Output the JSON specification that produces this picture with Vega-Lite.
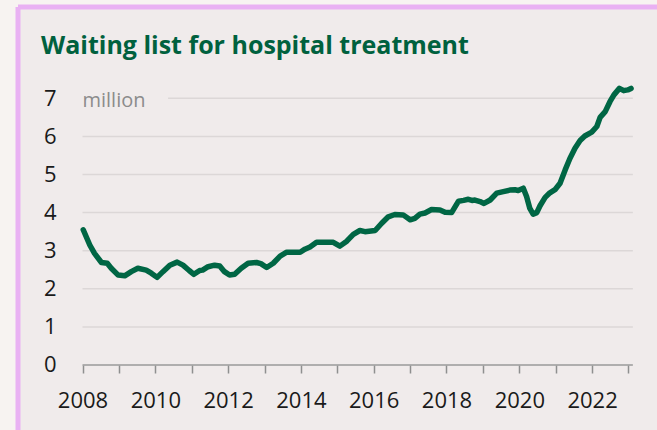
{
  "$schema": "https://vega.github.io/schema/vega-lite/v6.json",
  "width": 639,
  "height": 423,
  "autosize": {"type": "none"},
  "padding": {"left": 18, "top": 7, "right": 0, "bottom": 0},
  "background": "#f7f3f1",
  "config": {
    "view": {"fill": "#f0ebeb", "stroke": "#e9b1f3", "strokeWidth": 5, "strokeDash": [639, 1062, 423, 0]},
    "font": "Open Sans"
  },
  "title": {
    "text": "Waiting list for hospital treatment",
    "anchor": "start",
    "frame": "group",
    "font": "Open Sans",
    "fontWeight": "bold",
    "fontSize": 25,
    "color": "#00613e",
    "dx": 23,
    "dy": 72,
    "offset": 0,
    "baseline": "alphabetic"
  },
  "encoding": {
    "x": {
      "field": "year",
      "type": "quantitative",
      "scale": {"domain": [2006.228, 2023.783], "nice": false, "zero": false},
      "axis": {
        "orient": "bottom",
        "offset": -65,
        "values": [2008, 2009, 2010, 2011, 2012, 2013, 2014, 2015, 2016, 2017, 2018, 2019, 2020, 2021, 2022, 2023],
        "format": "d",
        "labelExpr": "datum.value % 2 == 0 ? datum.label : ''",
        "domain": false,
        "grid": false,
        "ticks": true,
        "tickSize": 8,
        "tickColor": "#8f8f8f",
        "tickWidth": 1.5,
        "labelFontSize": 22,
        "labelFont": "Open Sans",
        "labelColor": "#1a1a1a",
        "labelPadding": 17,
        "labelFlush": false,
        "labelOverlap": false,
        "title": null
      }
    },
    "y": {
      "field": "value",
      "type": "quantitative",
      "scale": {"domain": [-1.706, 9.396], "nice": false, "zero": false},
      "axis": {
        "orient": "left",
        "offset": -38,
        "values": [0, 1, 2, 3, 4, 5, 6, 7],
        "format": "d",
        "domain": false,
        "grid": false,
        "ticks": false,
        "tickSize": 0,
        "labelPadding": 0,
        "labelFontSize": 22,
        "labelFont": "Open Sans",
        "labelColor": "#1a1a1a",
        "title": null
      }
    }
  },
  "layer": [
    {
      "data": {"values": [
        {"year": 2008, "year2": 2023.12, "value": 1},
        {"year": 2008, "year2": 2023.12, "value": 2},
        {"year": 2008, "year2": 2023.12, "value": 3},
        {"year": 2008, "year2": 2023.12, "value": 4},
        {"year": 2008, "year2": 2023.12, "value": 5},
        {"year": 2008, "year2": 2023.12, "value": 6},
        {"year": 2010.35, "year2": 2023.12, "value": 7}
      ]},
      "mark": {"type": "rule", "color": "#dcd7d7", "strokeWidth": 1.5},
      "encoding": {"x2": {"field": "year2"}}
    },
    {
      "data": {"values": [{"year": 2008, "year2": 2023.12, "value": 0}]},
      "mark": {"type": "rule", "color": "#9a9a9a", "strokeWidth": 1.5},
      "encoding": {"x2": {"field": "year2"}}
    },
    {
      "data": {"values": [
        {"year": 2008.02, "value": 3.55},
        {"year": 2008.2, "value": 3.15},
        {"year": 2008.33, "value": 2.93},
        {"year": 2008.52, "value": 2.69},
        {"year": 2008.68, "value": 2.67},
        {"year": 2008.79, "value": 2.54},
        {"year": 2008.98, "value": 2.36},
        {"year": 2009.16, "value": 2.34},
        {"year": 2009.34, "value": 2.45},
        {"year": 2009.52, "value": 2.54},
        {"year": 2009.75, "value": 2.49},
        {"year": 2009.89, "value": 2.41},
        {"year": 2010.05, "value": 2.3},
        {"year": 2010.21, "value": 2.45},
        {"year": 2010.4, "value": 2.62},
        {"year": 2010.6, "value": 2.7},
        {"year": 2010.76, "value": 2.62},
        {"year": 2010.93, "value": 2.48},
        {"year": 2011.06, "value": 2.38},
        {"year": 2011.22, "value": 2.48},
        {"year": 2011.3, "value": 2.49},
        {"year": 2011.45, "value": 2.58},
        {"year": 2011.63, "value": 2.62},
        {"year": 2011.77, "value": 2.6},
        {"year": 2011.9, "value": 2.45},
        {"year": 2012.04, "value": 2.36},
        {"year": 2012.18, "value": 2.38},
        {"year": 2012.36, "value": 2.54},
        {"year": 2012.55, "value": 2.67},
        {"year": 2012.78, "value": 2.69},
        {"year": 2012.9, "value": 2.66},
        {"year": 2013.06, "value": 2.56},
        {"year": 2013.24, "value": 2.67},
        {"year": 2013.43, "value": 2.86},
        {"year": 2013.61, "value": 2.96},
        {"year": 2013.98, "value": 2.96},
        {"year": 2014.11, "value": 3.04},
        {"year": 2014.25, "value": 3.1},
        {"year": 2014.43, "value": 3.22},
        {"year": 2014.89, "value": 3.22},
        {"year": 2015.07, "value": 3.12},
        {"year": 2015.26, "value": 3.25},
        {"year": 2015.44, "value": 3.43},
        {"year": 2015.62, "value": 3.53},
        {"year": 2015.76, "value": 3.5},
        {"year": 2016.04, "value": 3.53},
        {"year": 2016.22, "value": 3.72},
        {"year": 2016.4, "value": 3.89},
        {"year": 2016.58, "value": 3.95},
        {"year": 2016.81, "value": 3.94},
        {"year": 2017.0, "value": 3.81},
        {"year": 2017.13, "value": 3.85},
        {"year": 2017.27, "value": 3.96},
        {"year": 2017.41, "value": 3.99},
        {"year": 2017.59, "value": 4.08},
        {"year": 2017.82, "value": 4.07},
        {"year": 2017.96, "value": 4.01},
        {"year": 2018.14, "value": 4.0},
        {"year": 2018.33, "value": 4.3},
        {"year": 2018.47, "value": 4.32},
        {"year": 2018.6, "value": 4.35},
        {"year": 2018.7, "value": 4.32},
        {"year": 2018.78, "value": 4.33},
        {"year": 2018.92, "value": 4.29},
        {"year": 2019.03, "value": 4.24},
        {"year": 2019.2, "value": 4.33},
        {"year": 2019.38, "value": 4.51},
        {"year": 2019.56, "value": 4.55},
        {"year": 2019.74, "value": 4.59},
        {"year": 2019.88, "value": 4.6},
        {"year": 2019.97, "value": 4.58},
        {"year": 2020.11, "value": 4.64},
        {"year": 2020.2, "value": 4.42},
        {"year": 2020.29, "value": 4.11},
        {"year": 2020.38, "value": 3.96},
        {"year": 2020.48, "value": 4.0},
        {"year": 2020.57, "value": 4.18},
        {"year": 2020.71, "value": 4.4},
        {"year": 2020.84, "value": 4.52},
        {"year": 2020.98, "value": 4.6},
        {"year": 2021.12, "value": 4.77},
        {"year": 2021.26, "value": 5.12},
        {"year": 2021.39, "value": 5.42},
        {"year": 2021.53, "value": 5.69},
        {"year": 2021.67, "value": 5.89},
        {"year": 2021.8, "value": 6.01},
        {"year": 2021.99, "value": 6.11},
        {"year": 2022.13, "value": 6.26},
        {"year": 2022.22, "value": 6.5},
        {"year": 2022.36, "value": 6.65},
        {"year": 2022.49, "value": 6.91},
        {"year": 2022.6, "value": 7.09},
        {"year": 2022.75, "value": 7.26},
        {"year": 2022.87, "value": 7.2},
        {"year": 2022.98, "value": 7.22},
        {"year": 2023.07, "value": 7.26}
      ]},
      "mark": {"type": "line", "color": "#006644", "strokeWidth": 5.5, "strokeCap": "round", "strokeJoin": "round"}
    },
    {
      "data": {"values": [{"year": 2008, "value": 7, "label": "million"}]},
      "mark": {"type": "text", "align": "left", "baseline": "alphabetic", "dy": 9, "fontSize": 20, "color": "#8c8c8c", "font": "Open Sans"},
      "encoding": {"text": {"field": "label"}}
    }
  ]
}
